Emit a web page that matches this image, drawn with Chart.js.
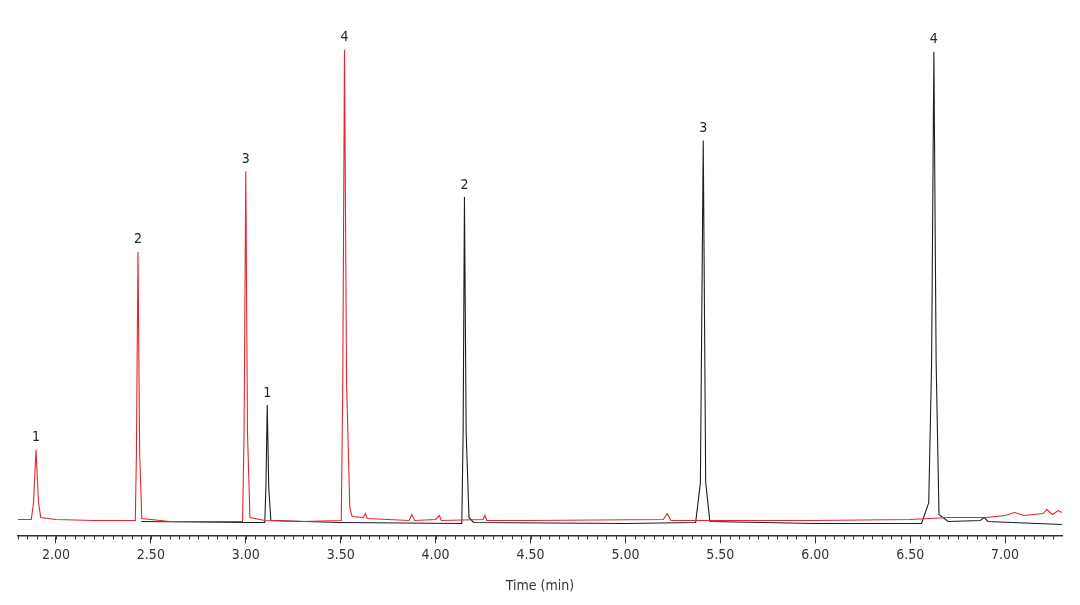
<!DOCTYPE html>
<html>
<head>
<meta charset="utf-8">
<script src="https://cdn.jsdelivr.net/npm/chart.js@4/dist/chart.umd.min.js"></script>
<style>
  html, body { margin: 0; padding: 0; background: #fff; }
  #wrap { width: 1080px; height: 605px; }
</style>
</head>
<body>
<div id="wrap"><canvas id="chrom"></canvas></div>
<script>
// time (min), signal
const redTrace = [
  [1.80,3],[1.87,3],[1.882,20],[1.895,73],[1.908,20],[1.92,5],[2.0,3],[2.2,2],
  [2.418,2],[2.424,70],[2.432,272],[2.441,70],[2.452,4],[2.6,1],
  [2.983,1],[2.991,90],[3.0,353],[3.009,90],[3.022,5],[3.1,2],[3.3,1],
  [3.503,2],[3.511,140],[3.52,475],[3.531,140],[3.548,15],[3.56,6],[3.62,5],[3.63,9],[3.64,4],
  [3.86,2],[3.875,8],[3.89,2],[4.0,3],[4.02,7],[4.03,2],[4.25,3],[4.26,7],[4.27,2],
  [4.5,2],[5.2,3],[5.22,9],[5.24,2],[5.5,2],[6.0,2],[6.5,3],[6.7,5],[6.9,5],
  [7.0,7],[7.05,10],[7.1,7],[7.2,9],[7.22,13],[7.25,8],[7.28,12],[7.30,10]
];
const blackTrace = [
  [2.45,1],[3.0,0],[3.10,0],[3.106,35],[3.113,118],[3.121,35],[3.132,2],[3.5,0],
  [4.138,-1],[4.145,90],[4.152,327],[4.161,90],[4.176,5],[4.2,0],[5.0,-1],
  [5.37,0],[5.395,40],[5.41,384],[5.423,40],[5.445,1],[6.0,-1],
  [6.56,-1],[6.598,20],[6.613,160],[6.625,473],[6.637,160],[6.652,8],[6.7,1],
  [6.87,2],[6.89,5],[6.91,1],[7.3,-2]
];
const redPeaks = [[1.895,73,'1'],[2.432,272,'2'],[3.0,353,'3'],[3.52,475,'4']];
const blackPeaks = [[3.113,118,'1'],[4.152,327,'2'],[5.41,384,'3'],[6.625,473,'4']];
const xTicks = [2.0,2.5,3.0,3.5,4.0,4.5,5.0,5.5,6.0,6.5,7.0];

const FONT = '"DejaVu Sans Condensed", "Liberation Sans Narrow", "Open Sans", sans-serif';

const toXY = arr => arr.map(p => ({ x: p[0], y: p[1] }));

const extrasPlugin = {
  id: 'extras',
  afterDatasetsDraw(chart) {
    const ctx = chart.ctx;
    const xs = chart.scales.x, ys = chart.scales.y;
    ctx.save();
    // minor ticks every 0.05
    ctx.strokeStyle = '#333';
    ctx.lineWidth = 1;
    for (let i = 36; i <= 146; i++) {
      const v = i * 0.05;
      if (v < xs.min || v > xs.max) continue;
      const px = Math.round(xs.getPixelForValue(v)) + 0.5;
      ctx.beginPath();
      ctx.moveTo(px, chart.chartArea.bottom);
      ctx.lineTo(px, chart.chartArea.bottom + 4);
      ctx.stroke();
    }
    ctx.font = '14px ' + FONT;
    ctx.fillStyle = '#222';
    ctx.textAlign = 'center';
    ctx.textBaseline = 'bottom';
    redPeaks.concat(blackPeaks).forEach(p => {
      ctx.fillText(p[2], xs.getPixelForValue(p[0]), ys.getPixelForValue(p[1]) - 5);
    });
    ctx.restore();
  }
};

new Chart(document.getElementById('chrom'), {
  type: 'line',
  data: {
    datasets: [
      { label: 'red', data: toXY(redTrace), borderColor: '#e3262c', borderWidth: 1.1, pointRadius: 0, tension: 0 },
      { label: 'black', data: toXY(blackTrace), borderColor: '#1e1e1e', borderWidth: 1.1, pointRadius: 0, tension: 0 }
    ]
  },
  options: {
    responsive: true,
    maintainAspectRatio: false,
    animation: false,
    layout: { padding: { top: 20, left: 18, right: 18, bottom: 6 } },
    plugins: { legend: { display: false }, tooltip: { enabled: false } },
    scales: {
      x: {
        type: 'linear',
        min: 1.80,
        max: 7.30,
        afterBuildTicks: axis => { axis.ticks = xTicks.map(v => ({ value: v })); },
        ticks: {
          color: '#333',
          font: { family: FONT, size: 14 },
          padding: 4,
          maxRotation: 0,
          callback: v => v.toFixed(2)
        },
        grid: { display: true, drawOnChartArea: false, tickLength: 8, color: '#333' },
        border: { display: true, color: '#333', width: 1.5 },
        title: { display: true, text: 'Time (min)', color: '#333', font: { family: FONT, size: 14 }, padding: { top: 10 } }
      },
      y: {
        min: -13,
        max: 505,
        display: false
      }
    }
  },
  plugins: [extrasPlugin]
});
</script>
</body>
</html>
